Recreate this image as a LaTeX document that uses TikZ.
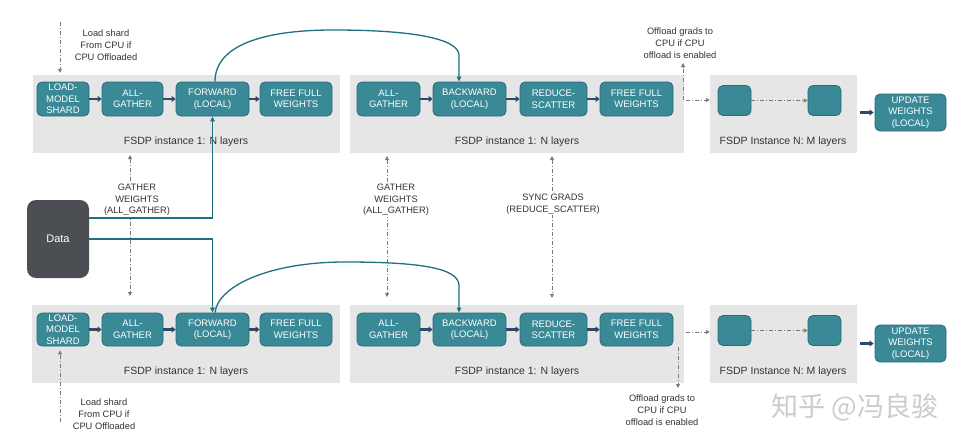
\documentclass[tikz,border=0pt]{standalone}
\usepackage{fontspec}
\setmainfont{Liberation Sans}
\newfontfamily\cjkfont{Noto Sans CJK SC}
\usetikzlibrary{arrows.meta}
\definecolor{boxfill}{HTML}{3A8996}
\definecolor{boxline}{HTML}{28697A}
\definecolor{panelgray}{HTML}{E6E6E6}
\definecolor{navy}{HTML}{2D4A6A}
\definecolor{tealline}{HTML}{1F7080}
\definecolor{datafill}{HTML}{4B4E53}
\definecolor{dashgray}{HTML}{7A7A7A}
\definecolor{labeltext}{HTML}{333333}
\tikzset{
  dtip/.tip={Triangle[length=4pt,width=4pt]},
  ttip/.tip={Triangle[length=5pt,width=4.5pt]},
  ntip/.tip={Triangle[length=4pt,width=6pt]},
}
\begin{document}
\begin{tikzpicture}[x=1pt,y=-1pt,
  panel/.style={rectangle, fill=panelgray, draw=none, inner sep=0},
  stepbox/.style={rectangle, rounded corners=5pt, fill=boxfill, draw=boxline, line width=0.8pt,
     text=white, align=center, inner sep=0, minimum height=34pt,
     font=\fontsize{9.5}{11.5}\selectfont},
  smallbox/.style={rectangle, rounded corners=5pt, fill=boxfill, draw=boxline, line width=0.8pt,
     inner sep=0, minimum width=33pt, minimum height=30pt},
  databox/.style={rectangle, rounded corners=9pt, fill=datafill, draw=none, text=white,
     minimum width=62pt, minimum height=78pt, font=\fontsize{11}{13}\selectfont},
  paneltext/.style={text=labeltext, inner sep=0, font=\fontsize{10.5}{12}\selectfont},
  note/.style={text=labeltext, align=center, inner sep=1pt, font=\fontsize{9.3}{11.7}\selectfont},
  notew/.style={note, fill=white},
  flow/.style={draw=navy, line width=2.3pt, -ntip},
  dd/.style={draw=dashgray, line width=0.8pt, dash pattern=on 4pt off 2pt on 1pt off 2pt},
  tline/.style={draw=tealline, line width=1.3pt},
]
\useasboundingbox (0,0) rectangle (970,447);
\fill[white] (0,0) rectangle (970,447);

% ---------- panels ----------
\node[panel, minimum width=307pt, minimum height=78pt] (p1) at (186.5,114) {};
\node[panel, minimum width=334pt, minimum height=78pt] (p2) at (517,114) {};
\node[panel, minimum width=147pt, minimum height=78pt] (p3) at (783.5,114) {};
\node[panel, minimum width=308pt, minimum height=78pt] (p4) at (186,344) {};
\node[panel, minimum width=334pt, minimum height=78pt] (p5) at (517,344) {};
\node[panel, minimum width=147pt, minimum height=78pt] (p6) at (783.5,344) {};

\node[paneltext] (p1l) at (186,142) {FSDP instance 1: N layers};
\node[paneltext] (p2l) at (517,142) {FSDP instance 1: N layers};
\node[paneltext] (p3l) at (783,142) {FSDP Instance N: M layers};
\node[paneltext] (p4l) at (186,372) {FSDP instance 1: N layers};
\node[paneltext] (p5l) at (517,372) {FSDP instance 1: N layers};
\node[paneltext] (p6l) at (783,372) {FSDP Instance N: M layers};

% ---------- top row ----------
\node[stepbox, minimum width=52pt] (load1) at (63,99) {LOAD-\\MODEL\\SHARD};
\node[stepbox, minimum width=61pt] (ag1) at (132.5,99) {ALL-\\GATHER};
\node[stepbox, minimum width=73pt] (fwd1) at (212.5,99) {FORWARD\\(LOCAL)};
\node[stepbox, minimum width=72pt] (free1) at (296,99) {FREE FULL\\WEIGHTS};
\node[stepbox, minimum width=63pt] (ag2) at (388.5,99) {ALL-\\GATHER};
\node[stepbox, minimum width=73pt] (bwd1) at (469.5,99) {BACKWARD\\(LOCAL)};
\node[stepbox, minimum width=67pt] (rs1) at (553.5,99) {REDUCE-\\SCATTER};
\node[stepbox, minimum width=73pt] (free2) at (636.5,99) {FREE FULL\\WEIGHTS};
\node[smallbox] (s1) at (734.5,100.5) {};
\node[smallbox] (s2) at (824.5,100.5) {};
\node[stepbox, minimum width=71pt, minimum height=37pt] (upd1) at (910.5,112.5) {UPDATE\\WEIGHTS\\(LOCAL)};

% ---------- bottom row ----------
\node[stepbox, minimum width=52pt, minimum height=33pt] (load2) at (63,329.5) {LOAD-\\MODEL\\SHARD};
\node[stepbox, minimum width=61pt, minimum height=33pt] (ag3) at (132.5,329.5) {ALL-\\GATHER};
\node[stepbox, minimum width=73pt, minimum height=33pt] (fwd2) at (212.5,329.5) {FORWARD\\(LOCAL)};
\node[stepbox, minimum width=72pt, minimum height=33pt] (free3) at (296,329.5) {FREE FULL\\WEIGHTS};
\node[stepbox, minimum width=63pt, minimum height=33pt] (ag4) at (388.5,329.5) {ALL-\\GATHER};
\node[stepbox, minimum width=73pt, minimum height=33pt] (bwd2) at (469.5,329.5) {BACKWARD\\(LOCAL)};
\node[stepbox, minimum width=67pt, minimum height=33pt] (rs2) at (553.5,329.5) {REDUCE-\\SCATTER};
\node[stepbox, minimum width=73pt, minimum height=33pt] (free4) at (636.5,329.5) {FREE FULL\\WEIGHTS};
\node[smallbox] (s3) at (734.5,330.5) {};
\node[smallbox] (s4) at (824.5,330.5) {};
\node[stepbox, minimum width=71pt, minimum height=37pt] (upd2) at (910.5,343.5) {UPDATE\\WEIGHTS\\(LOCAL)};

% ---------- data ----------
\node[databox] (data) at (58,239) {Data};

% ---------- flow arrows ----------
\draw[flow] (load1) -- (ag1);
\draw[flow] (ag1) -- (fwd1);
\draw[flow] (fwd1) -- (free1);
\draw[flow] (ag2) -- (bwd1);
\draw[flow] (bwd1) -- (rs1);
\draw[flow] (rs1) -- (free2);
\draw[flow, shorten <=3pt, shorten >=1pt] (p3.east |- upd1.west) -- (upd1.west);
\draw[flow] (load2) -- (ag3);
\draw[flow] (ag3) -- (fwd2);
\draw[flow] (fwd2) -- (free3);
\draw[flow] (ag4) -- (bwd2);
\draw[flow] (bwd2) -- (rs2);
\draw[flow] (rs2) -- (free4);
\draw[flow, shorten <=3pt, shorten >=1pt] (p6.east |- upd2.west) -- (upd2.west);

% ---------- dash-dot connectors ----------
\draw[dd, -dtip] (s1) -- (s2);
\draw[dd, -dtip] (s3) -- (s4);

% load shard (top)
\coordinate (ls1) at (60,22);
\draw[dd, -dtip] (ls1) -- ([yshift=2pt]ls1 |- p1.north);
\node[note] (ls1l) at (106,45) {Load shard\\From CPU if\\CPU Offloaded};
% load shard (bottom)
\coordinate (ls2) at (60,422);
\draw[dd, -dtip] (ls2) -- ([yshift=-4pt]ls2 |- load2.south);
\node[note] (ls2l) at (104,414) {Load shard\\From CPU if\\CPU Offloaded};

% offload grads (top)
\coordinate (og1) at (683,100);
\coordinate (og1t) at (683,63);
\draw[dd, -dtip] (og1) -- (og1t);
\draw[dd, -dtip] ([xshift=3pt]og1) -- (og1 -| p3.west);
\node[note] (og1l) at (680,43) {Offload grads to\\CPU if CPU\\offload is enabled};
% offload grads (bottom)
\coordinate (og2) at (678,347);
\coordinate (og2b) at (678,388);
\draw[dd, -dtip] (og2) -- (og2b);
\coordinate (og2h) at (686,332);
\draw[dd, -dtip] (og2h) -- (og2h -| p6.west);
\node[note] (og2l) at (662,410) {Offload grads to\\CPU if CPU\\offload is enabled};

% gather weights / sync grads
\coordinate (g1t) at (130,155);
\coordinate (g1b) at (130,296);
\draw[dd, dtip-dtip] (g1t) -- (g1b);
\node[notew] (g1l) at (137,200) {GATHER\\WEIGHTS\\(ALL\_GATHER)};

\coordinate (g2t) at (387,156);
\coordinate (g2b) at (387,297);
\draw[dd, dtip-dtip] (g2t) -- (g2b);
\node[notew] (g2l) at (396,200) {GATHER\\WEIGHTS\\(ALL\_GATHER)};

\coordinate (g3t) at (552,156);
\coordinate (g3b) at (552,298);
\draw[dd, dtip-dtip] (g3t) -- (g3b);
\node[notew] (g3l) at (553,204) {SYNC GRADS\\(REDUCE\_SCATTER)};

% ---------- teal connectors ----------
\draw[tline, -ttip] ([yshift=21pt]data.east) -| (fwd1.south);
\draw[tline, -ttip] (data.east) -| (fwd2.north);

\coordinate (peak1) at (333,30);
\coordinate (bend1) at (459,55);
\draw[tline, -ttip] ([xshift=2.5pt]fwd1.north) .. controls +(0,-37) and +(-68,0) .. (peak1)
   .. controls +(77,0) and +(-1,-17) .. (bend1) -- (bend1 |- bwd1.north);

\coordinate (peak2) at (345,262);
\coordinate (bend2) at (459,285);
\draw[tline, -ttip] ([xshift=2.5pt]fwd2.north) .. controls +(3,-27) and +(-75,0) .. (peak2)
   .. controls +(75,0) and +(-1,-17) .. (bend2) -- (bend2 |- bwd2.north);

% ---------- watermark ----------
\node[text=gray!40, inner sep=0, font=\cjkfont\fontsize{27}{27}\selectfont] (wm) at (855,407) {知乎 @冯良骏};
\end{tikzpicture}
\end{document}
